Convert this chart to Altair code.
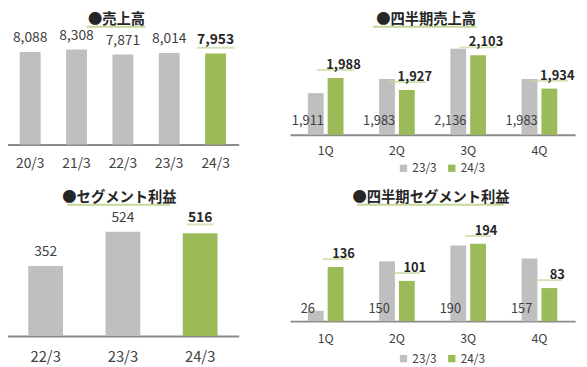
import altair as alt
import pandas as pd

# ---------------- data ----------------
titles = ["●売上高", "●四半期売上高", "●セグメント利益", "●四半期セグメント利益"]

sales_years = ["20/3", "21/3", "22/3", "23/3", "24/3"]
sales_values = [8088, 8308, 7871, 8014, 7953]

profit_years = ["22/3", "23/3", "24/3"]
profit_values = [352, 524, 516]

quarters = ["1Q", "2Q", "3Q", "4Q"]
series = ["23/3", "24/3"]
q_sales_prev = [1911, 1983, 2136, 1983]
q_sales_curr = [1988, 1927, 2103, 1934]
q_profit_prev = [26, 150, 190, 157]
q_profit_curr = [136, 101, 194, 83]

# ---------------- style ----------------
GRAY = "#BFBFBF"
GREEN = "#9BBB59"
UL = "#C3D89A"
TXT = "#404040"
DARK = "#262626"
AXC = "#8A8A8A"
FONT = "Noto Sans CJK JP"
W, H = 579, 359


def x_axis(offset, pad, size):
    return alt.Axis(orient="bottom", offset=offset, title=None, labelAngle=0,
                    ticks=False, tickSize=0, grid=False, domainColor=AXC,
                    domainWidth=2, labelFont=FONT, labelFontSize=size,
                    labelColor=TXT, labelPadding=pad)


def annual_panel(cats, vals, xr, ydom, yr, offset, lab_pad, axis_size,
                 val_size, val_dy, bold_dy, ul_size, ul_off):
    df = pd.DataFrame({"cat": cats, "val": vals,
                       "kind": ["prev"] * (len(cats) - 1) + ["last"]})
    prev = df[df["kind"] == "prev"]
    last = df[df["kind"] == "last"]
    xs = alt.Scale(domain=cats, range=xr, paddingInner=0.55, paddingOuter=0.275)
    ys = alt.Scale(domain=ydom, range=yr)
    X0 = alt.X("cat:N", scale=xs, axis=None)
    Y0 = alt.Y("val:Q", scale=ys, axis=None)
    bars = alt.Chart(df).mark_bar().encode(
        x=alt.X("cat:N", scale=xs, axis=x_axis(offset, lab_pad, axis_size)),
        y=Y0,
        color=alt.Color("kind:N", scale=alt.Scale(domain=["prev", "last"], range=[GRAY, GREEN]), legend=None),
    )
    t_prev = alt.Chart(prev).mark_text(font=FONT, fontSize=val_size, color=TXT,
                                       baseline="middle", dy=val_dy).encode(
        x=X0, y=Y0, text=alt.Text("val:Q", format=","))
    ul = alt.Chart(last).mark_tick(color=UL, size=ul_size, thickness=2,
                                   yOffset=ul_off).encode(x=X0, y=Y0)
    t_last = alt.Chart(last).mark_text(font=FONT, fontSize=val_size, fontWeight="bold",
                                       color=DARK, baseline="middle", dy=bold_dy).encode(
        x=X0, y=Y0, text=alt.Text("val:Q", format=","))
    return [bars, t_prev, ul, t_last]


def quarter_panel(prev_vals, curr_vals, xr, ydom, yr, offset, lab_pad, legend_y,
                  base_dy, top_dy, ul_off, ul_size, val_size):
    df = pd.DataFrame({"q": quarters * 2, "s": [series[0]] * 4 + [series[1]] * 4,
                       "val": prev_vals + curr_vals})
    prev = df[df["s"] == series[0]]
    curr = df[df["s"] == series[1]]
    xs = alt.Scale(domain=quarters, range=xr, paddingInner=0.5, paddingOuter=0.25)
    xo = alt.Scale(domain=series, paddingInner=0.2, paddingOuter=0)
    ys = alt.Scale(domain=ydom, range=yr)
    X0 = alt.X("q:N", scale=xs, axis=None)
    XO = alt.XOffset("s:N", scale=xo)
    Y0 = alt.Y("val:Q", scale=ys, axis=None)
    bars = alt.Chart(df).mark_bar().encode(
        x=alt.X("q:N", scale=xs, axis=x_axis(offset, lab_pad, 12.5)),
        xOffset=XO,
        y=Y0,
        y2=alt.Y2(datum=ydom[0]),
        color=alt.Color("s:N", scale=alt.Scale(domain=series, range=[GRAY, GREEN]),
                        legend=alt.Legend(orient="none", legendX=395, legendY=legend_y,
                                          direction="horizontal", title=None,
                                          symbolType="square", symbolSize=55,
                                          symbolStrokeWidth=0, labelFont=FONT,
                                          labelFontSize=12, labelColor=TXT,
                                          columnPadding=9, labelOffset=3)),
    )
    t_prev = alt.Chart(prev).mark_text(font=FONT, fontSize=val_size, color=TXT,
                                       baseline="middle", dy=base_dy).encode(
        x=X0, xOffset=XO, y=alt.Y(datum=ydom[0], scale=ys, axis=None),
        text=alt.Text("val:Q", format=","))
    ul = alt.Chart(curr).mark_tick(color=UL, size=ul_size, thickness=2,
                                   yOffset=ul_off).encode(x=X0, xOffset=XO, y=Y0)
    t_curr = alt.Chart(curr).mark_text(font=FONT, fontSize=val_size, fontWeight="bold",
                                       color=DARK, baseline="middle", dy=top_dy).encode(
        x=X0, xOffset=XO, y=Y0, text=alt.Text("val:Q", format=","))
    return [bars, t_prev, ul, t_curr]


def title_layer(text, cx, cy, ux0, ux1, uy):
    d = pd.DataFrame({"t": [text]})
    t = alt.Chart(d).mark_text(font=FONT, fontSize=14.5, fontWeight="bold", color=DARK,
                               baseline="middle", align="center").encode(
        x=alt.value(cx), y=alt.value(cy), text="t:N")
    u = alt.Chart(d).mark_rule(color=UL, strokeWidth=2).encode(
        x=alt.value(ux0), x2=alt.value(ux1), y=alt.value(uy))
    return [u, t]


layers = []
# top-left: annual sales
layers += annual_panel(sales_years, sales_values, [-1, 234], [0, 10000], [136, 20],
                       136 - H, 12, 14, 14, -14, -14, 38, -6)
# top-right: quarterly sales
layers += quarter_panel(q_sales_prev, q_sales_curr, [286, 575], [1700, 2200], [126, 26],
                        126 - H, 10.5, 154, -14, -13, -8, 38, 13)
# bottom-left: segment profit
layers += annual_panel(profit_years, profit_values, [-1, 234], [0, 600], [330, 209],
                       330 - H, 13.5, 15, 14, -14, -15, 27, -9)
# bottom-right: quarterly segment profit
layers += quarter_panel(q_profit_prev, q_profit_curr, [286, 575], [0, 250], [315, 214],
                        315 - H, 11.5, 347, -12, -13, -8, 26, 13)

layers += title_layer(titles[0], 110, 9.5, 80, 139, 16.5)
layers += title_layer(titles[1], 424, 9.5, 370, 475, 16.5)
layers += title_layer(titles[2], 113, 190, 60, 164, 197)
layers += title_layer(titles[3], 429, 190, 354, 503, 197)

chart = alt.layer(*layers).resolve_scale(
    x="independent", y="independent", color="independent", xOffset="independent"
).resolve_axis(x="independent", y="independent").resolve_legend(
    color="independent"
).properties(
    width=W, height=H, padding=0, autosize=alt.AutoSizeParams(type="none")
).configure_view(stroke=None)

chart.save("out.html", embed_options={"renderer": "svg", "actions": False})
